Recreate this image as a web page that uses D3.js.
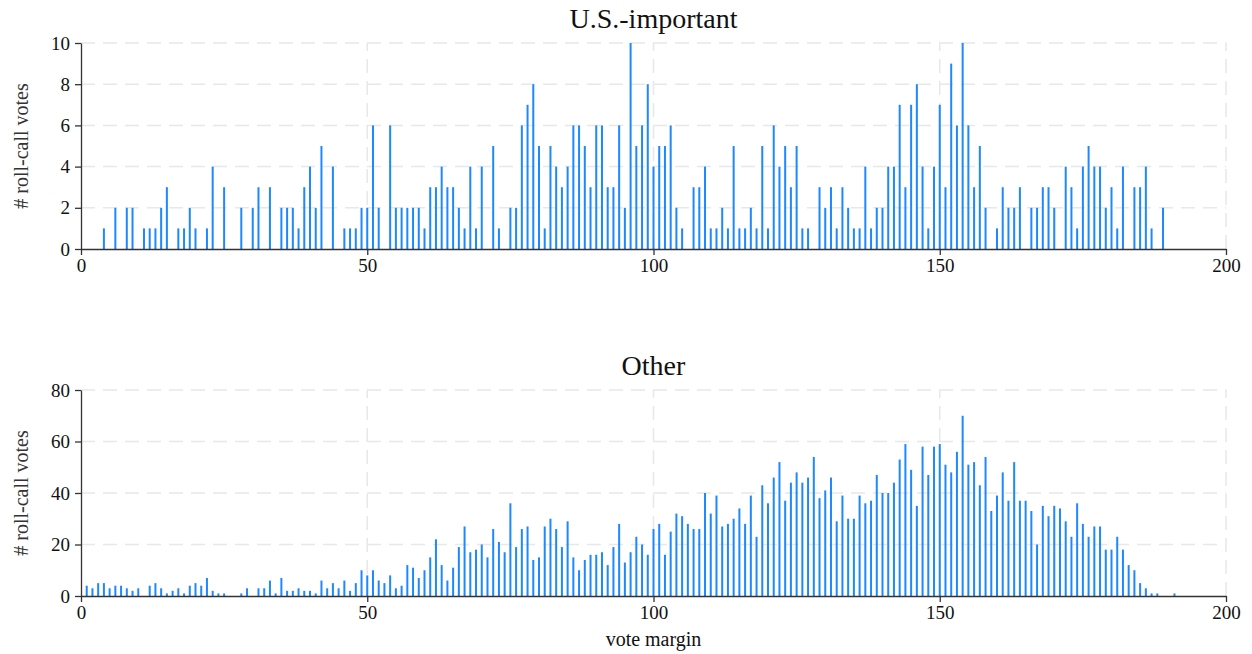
<!DOCTYPE html>
<html>
<head>
<meta charset="utf-8">
<script src="https://cdn.jsdelivr.net/npm/d3@7/dist/d3.min.js"></script>
<style>
  body { margin: 0; background: #fff; }
  text { font-family: "Liberation Serif", "Times New Roman", serif; }
</style>
</head>
<body>
<svg id="chart" width="1252" height="654"></svg>
<script>
// vote margins with at least one roll-call vote, and counts
var usMargins = [4, 6, 8, 9, 11, 12, 13, 14, 15, 17, 18, 19, 20, 22, 23, 25, 28, 30, 31, 33,
  35, 36, 37, 38, 39, 40, 41, 42, 44, 46, 47, 48, 49, 50, 51, 52, 54, 55, 56, 57,
  58, 59, 60, 61, 62, 63, 64, 65, 66, 67, 68, 69, 70, 72, 73, 75, 76, 77, 78, 79,
  80, 81, 82, 83, 84, 85, 86, 87, 88, 89, 90, 91, 92, 93, 94, 95, 96, 97, 98, 99,
  100, 101, 102, 103, 104, 105, 107, 108, 109, 110, 111, 112, 113, 114, 115, 116, 117, 118, 119, 120,
  121, 122, 123, 124, 125, 126, 127, 129, 130, 131, 132, 133, 134, 135, 136, 137, 138, 139, 140, 141,
  142, 143, 144, 145, 146, 147, 148, 149, 150, 151, 152, 153, 154, 155, 156, 157, 158, 160, 161, 162,
  163, 164, 166, 167, 168, 169, 170, 172, 173, 174, 175, 176, 177, 178, 179, 180, 181, 182, 184, 185,
  186, 187, 189];
var usCounts = [1, 2, 2, 2, 1, 1, 1, 2, 3, 1, 1, 2, 1, 1, 4, 3, 2, 2, 3, 3,
  2, 2, 2, 1, 3, 4, 2, 5, 4, 1, 1, 1, 2, 2, 6, 2, 6, 2, 2, 2,
  2, 2, 1, 3, 3, 4, 3, 3, 2, 1, 4, 1, 4, 5, 1, 2, 2, 6, 7, 8,
  5, 1, 5, 4, 3, 4, 6, 6, 5, 3, 6, 6, 3, 3, 6, 2, 10, 5, 6, 8,
  4, 5, 5, 6, 2, 1, 3, 3, 4, 1, 1, 2, 1, 5, 1, 1, 2, 1, 5, 1,
  6, 4, 5, 3, 5, 1, 1, 3, 2, 3, 1, 3, 2, 1, 1, 4, 1, 2, 2, 4,
  4, 7, 3, 7, 8, 4, 1, 4, 7, 3, 9, 6, 10, 6, 3, 5, 2, 1, 3, 2,
  2, 3, 2, 2, 3, 3, 2, 4, 3, 1, 4, 5, 4, 4, 2, 3, 1, 4, 3, 3,
  4, 1, 2];

var otherMargins = [1, 2, 3, 4, 5, 6, 7, 8, 9, 10, 12, 13, 14, 15, 16, 17, 18, 19, 20, 21,
  22, 23, 24, 25, 28, 29, 31, 32, 33, 34, 35, 36, 37, 38, 39, 40, 41, 42, 43, 44,
  45, 46, 47, 48, 49, 50, 51, 52, 53, 54, 55, 56, 57, 58, 59, 60, 61, 62, 63, 64,
  65, 66, 67, 68, 69, 70, 71, 72, 73, 74, 75, 76, 77, 78, 79, 80, 81, 82, 83, 84,
  85, 86, 87, 88, 89, 90, 91, 92, 93, 94, 95, 96, 97, 98, 99, 100, 101, 102, 103, 104,
  105, 106, 107, 108, 109, 110, 111, 112, 113, 114, 115, 116, 117, 118, 119, 120, 121, 122, 123, 124,
  125, 126, 127, 128, 129, 130, 131, 132, 133, 134, 135, 136, 137, 138, 139, 140, 141, 142, 143, 144,
  145, 146, 147, 148, 149, 150, 151, 152, 153, 154, 155, 156, 157, 158, 159, 160, 161, 162, 163, 164,
  165, 166, 167, 168, 169, 170, 171, 172, 173, 174, 175, 176, 177, 178, 179, 180, 181, 182, 183, 184,
  185, 186, 187, 188, 191];
var otherCounts = [4, 3, 5, 5, 3, 4, 4, 3, 2, 3, 4, 5, 3, 1, 2, 3, 1, 4, 5, 4,
  7, 2, 1, 1, 1, 3, 3, 3, 6, 1, 7, 2, 2, 3, 2, 2, 1, 6, 3, 5,
  3, 6, 2, 5, 10, 8, 10, 6, 5, 8, 3, 4, 12, 11, 7, 10, 15, 22, 12, 6,
  11, 19, 27, 17, 18, 20, 15, 26, 21, 17, 36, 19, 26, 27, 14, 15, 27, 30, 26, 19,
  29, 15, 10, 14, 16, 16, 17, 12, 19, 28, 13, 17, 23, 20, 16, 26, 28, 16, 25, 32,
  31, 28, 26, 26, 40, 32, 39, 27, 28, 30, 34, 28, 39, 23, 43, 36, 46, 52, 37, 44,
  48, 44, 46, 54, 38, 41, 46, 29, 39, 30, 30, 39, 36, 37, 47, 40, 40, 44, 53, 59,
  49, 35, 58, 47, 58, 59, 51, 48, 56, 70, 51, 52, 43, 54, 33, 39, 48, 37, 52, 37,
  37, 33, 20, 35, 31, 35, 34, 29, 23, 36, 28, 23, 27, 27, 18, 18, 23, 18, 12, 10,
  5, 3, 1, 1, 1];

var xTicks = [0, 50, 100, 150, 200];
var usTicks = [0, 2, 4, 6, 8, 10];
var otherTicks = [0, 20, 40, 60, 80];

var svg = d3.select("#chart");

var x = d3.scaleLinear().domain([0, 200]).range([81, 1226]);

function drawPanel(title, margins, counts, ymax, yTicks, top, bottom, titleY) {
  var y = d3.scaleLinear().domain([0, ymax]).range([bottom, top]);
  var g = svg.append("g");

  // grid
  g.append("g").selectAll("line.h")
    .data(yTicks.filter(function(d) { return d > 0; }))
    .enter().append("line")
      .attr("x1", x(0)).attr("x2", x(200))
      .attr("y1", function(d) { return y(d); })
      .attr("y2", function(d) { return y(d); })
      .attr("stroke", "#e8e8e8")
      .attr("stroke-width", 1.5)
      .attr("stroke-dasharray", "14,8");

  g.append("g").selectAll("line.v")
    .data(xTicks.filter(function(d) { return d > 0; }))
    .enter().append("line")
      .attr("x1", function(d) { return x(d); })
      .attr("x2", function(d) { return x(d); })
      .attr("y1", bottom).attr("y2", top)
      .attr("stroke", "#e8e8e8")
      .attr("stroke-width", 1.5)
      .attr("stroke-dasharray", "14,8");

  // bars
  g.append("g").selectAll("rect")
    .data(margins)
    .enter().append("rect")
      .attr("x", function(d) { return x(d) - 1; })
      .attr("width", 2)
      .attr("y", function(d, i) { return y(counts[i]); })
      .attr("height", function(d, i) { return y(0) - y(counts[i]); })
      .attr("fill", "#1e88ff");

  // axes
  var xa = g.append("g")
    .attr("transform", "translate(0," + bottom + ")")
    .call(d3.axisBottom(x).tickValues(xTicks).tickSizeOuter(0).tickPadding(4));
  var ya = g.append("g")
    .attr("transform", "translate(" + x(0) + ",0)")
    .call(d3.axisLeft(y).tickValues(yTicks).tickSizeOuter(0).tickPadding(5));

  [xa, ya].forEach(function(a) {
    a.selectAll("text")
      .style("font-family", "'Liberation Serif', 'Times New Roman', serif")
      .style("font-size", "19px")
      .attr("fill", "#111");
    a.selectAll("line, path").attr("stroke", "#333").attr("stroke-width", 1.3);
  });

  g.append("text")
    .attr("x", (x(0) + x(200)) / 2)
    .attr("y", titleY)
    .attr("text-anchor", "middle")
    .style("font-size", "28px")
    .attr("fill", "#111")
    .text(title);

  g.append("text")
    .attr("transform", "translate(28," + ((top + bottom) / 2) + ") rotate(-90)")
    .attr("text-anchor", "middle")
    .style("font-size", "20px")
    .attr("fill", "#333")
    .text("# roll-call votes");
}

drawPanel("U.S.-important", usMargins, usCounts, 10, usTicks, 43, 249, 28);
drawPanel("Other", otherMargins, otherCounts, 80, otherTicks, 390, 596, 375);

svg.append("text")
  .attr("x", (x(0) + x(200)) / 2)
  .attr("y", 646)
  .attr("text-anchor", "middle")
  .style("font-size", "20px")
  .attr("fill", "#111")
  .text("vote margin");
</script>
</body>
</html>
